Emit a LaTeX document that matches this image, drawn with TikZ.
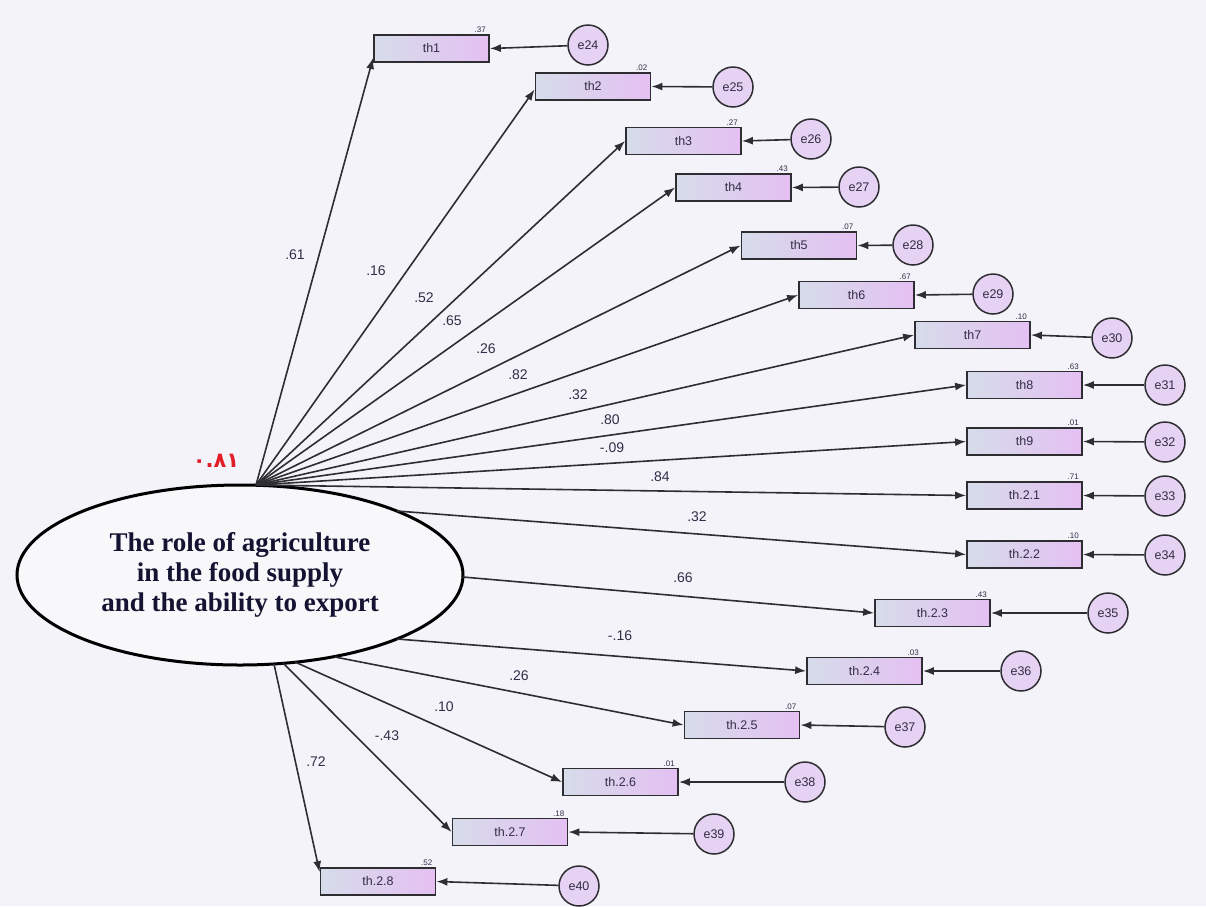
\documentclass[tikz,border=0pt]{standalone}
\usepackage{fontspec}
\setmainfont{Liberation Sans}
\newfontfamily\serifbold{Liberation Serif}
\newfontfamily\arabicfont[Script=Arabic]{DejaVu Sans}
\usetikzlibrary{arrows.meta,shapes.geometric}
\definecolor{bgc}{RGB}{244,243,249}
\definecolor{boxl}{RGB}{214,220,234}
\definecolor{boxr}{RGB}{228,192,242}
\definecolor{circf}{RGB}{230,210,242}
\definecolor{edge}{RGB}{45,45,50}
\definecolor{txt}{RGB}{50,45,70}
\definecolor{ttl}{RGB}{20,20,50}
\definecolor{redl}{RGB}{225,30,40}
\tikzset{
  obs/.style={draw=edge, line width=1.8pt, left color=boxl, right color=boxr,
    minimum width=115pt, minimum height=27pt, inner sep=0pt,
    font=\fontsize{12.5}{13}\selectfont, text=txt},
  err/.style={circle, draw=edge, line width=1.5pt, fill=circf, minimum size=40pt,
    inner sep=0pt, font=\fontsize{12.5}{13}\selectfont, text=txt},
  rsq/.style={anchor=south east, inner sep=1pt, font=\fontsize{8}{9}\selectfont, text=txt},
  coef/.style={inner sep=1pt, font=\fontsize{14}{15}\selectfont, text=txt},
  path/.style={draw=edge, line width=1.6pt, -{Latex[length=11pt,width=8pt]}},
  epath/.style={draw=edge, line width=1.6pt, -{Latex[length=11pt,width=8pt]}}
}
\begin{document}
\begin{tikzpicture}[x=1pt,y=-1pt]
\useasboundingbox (0,0) rectangle (1206,906);
\fill[bgc] (0,0) rectangle (1206,906);

% latent variable
\node[ellipse, draw=black, line width=3pt, fill=bgc!60!white, minimum width=446pt, minimum height=180pt, inner sep=0pt,
  align=center, text=ttl, font=\serifbold\bfseries\fontsize{27}{30}\selectfont] (lat) at (240,575)
  {The role of agriculture\\in the food supply\\and the ability to export};
\node[text=redl, inner sep=0pt, font=\arabicfont\bfseries\fontsize{21}{22}\selectfont] (var) at (216,461) {٠.٨١};

% observed variables
\node[obs] (t1)  at (431.5,48.5) {th1};
\node[obs] (t2)  at (593,86.5) {th2};
\node[obs] (t3)  at (683.5,141) {th3};
\node[obs] (t4)  at (733.5,187.5) {th4};
\node[obs] (t5)  at (799,245.5) {th5};
\node[obs] (t6)  at (856.5,295) {th6};
\node[obs] (t7)  at (972.5,335) {th7};
\node[obs] (t8)  at (1024.5,385) {th8};
\node[obs] (t9)  at (1024.5,441.5) {th9};
\node[obs] (t21) at (1024.5,495.5) {th.2.1};
\node[obs] (t22) at (1024.5,554.5) {th.2.2};
\node[obs] (t23) at (932.5,613) {th.2.3};
\node[obs] (t24) at (864.5,671) {th.2.4};
\node[obs] (t25) at (742,725) {th.2.5};
\node[obs] (t26) at (620.5,782) {th.2.6};
\node[obs] (t27) at (510,832) {th.2.7};
\node[obs] (t28) at (378,881.5) {th.2.8};

% squared multiple correlations
\node[rsq] (r1)  at ([xshift=-3pt]t1.north east)  {.37};
\node[rsq] (r2)  at ([xshift=-3pt]t2.north east)  {.02};
\node[rsq] (r3)  at ([xshift=-3pt]t3.north east)  {.27};
\node[rsq] (r4)  at ([xshift=-3pt]t4.north east)  {.43};
\node[rsq] (r5)  at ([xshift=-3pt]t5.north east)  {.07};
\node[rsq] (r6)  at ([xshift=-3pt]t6.north east)  {.67};
\node[rsq] (r7)  at ([xshift=-3pt]t7.north east)  {.10};
\node[rsq] (r8)  at ([xshift=-3pt]t8.north east)  {.63};
\node[rsq] (r9)  at ([xshift=-3pt]t9.north east)  {.01};
\node[rsq] (r21) at ([xshift=-3pt]t21.north east) {.71};
\node[rsq] (r22) at ([xshift=-3pt]t22.north east) {.10};
\node[rsq] (r23) at ([xshift=-3pt]t23.north east) {.43};
\node[rsq] (r24) at ([xshift=-3pt]t24.north east) {.03};
\node[rsq] (r25) at ([xshift=-3pt]t25.north east) {.07};
\node[rsq] (r26) at ([xshift=-3pt]t26.north east) {.01};
\node[rsq] (r27) at ([xshift=-3pt]t27.north east) {.18};
\node[rsq] (r28) at ([xshift=-3pt]t28.north east) {.52};

% error terms
\node[err] (e24) at (588,45) {e24};
\node[err] (e25) at (733,87) {e25};
\node[err] (e26) at (811,139) {e26};
\node[err] (e27) at (859,187) {e27};
\node[err] (e28) at (913,245) {e28};
\node[err] (e29) at (993,294) {e29};
\node[err] (e30) at (1112,338) {e30};
\node[err] (e31) at (1165,385) {e31};
\node[err] (e32) at (1165,442) {e32};
\node[err] (e33) at (1165,496) {e33};
\node[err] (e34) at (1165,555) {e34};
\node[err] (e35) at (1108,613) {e35};
\node[err] (e36) at (1021,671) {e36};
\node[err] (e37) at (905,727) {e37};
\node[err] (e38) at (805,782) {e38};
\node[err] (e39) at (714,834) {e39};
\node[err] (e40) at (579,886) {e40};

\draw[epath] (e24) -- (t1.east);
\draw[epath] (e25) -- (t2.east);
\draw[epath] (e26) -- (t3.east);
\draw[epath] (e27) -- (t4.east);
\draw[epath] (e28) -- (t5.east);
\draw[epath] (e29) -- (t6.east);
\draw[epath] (e30) -- (t7.east);
\draw[epath] (e31) -- (t8.east);
\draw[epath] (e32) -- (t9.east);
\draw[epath] (e33) -- (t21.east);
\draw[epath] (e34) -- (t22.east);
\draw[epath] (e35) -- (t23.east);
\draw[epath] (e36) -- (t24.east);
\draw[epath] (e37) -- (t25.east);
\draw[epath] (e38) -- (t26.east);
\draw[epath] (e39) -- (t27.east);
\draw[epath] (e40) -- (t28.east);

% path origins on the ellipse
\coordinate (src) at (256,485);
\coordinate (s22) at (397,511);
\coordinate (s23) at (463,577);
\coordinate (s24) at (397,639);
\coordinate (s25) at (335,657);
\coordinate (s26) at (295,662);
\coordinate (s27) at (283,663);
\coordinate (s28) at (274,664);

\draw[path] (src) -- ([yshift=5pt]t1.south west);
\draw[path] (src) -- ([yshift=-3pt]t2.west);
\draw[path] (src) -- (t3.west);
\draw[path] (src) -- (t4.west);
\draw[path] (src) -- (t5.west);
\draw[path] (src) -- (t6.west);
\draw[path] (src) -- (t7.west);
\draw[path] (src) -- (t8.west);
\draw[path] (src) -- (t9.west);
\draw[path] (src) -- (t21.west);
\draw[path] (s22) -- (t22.west);
\draw[path] (s23) -- (t23.west);
\draw[path] (s24) -- (t24.west);
\draw[path] (s25) -- (t25.west);
\draw[path] (s26) -- (t26.west);
\draw[path] (s27) -- (t27.west);
\draw[path] (s28) -- ([yshift=-5pt]t28.north west);

% path coefficients
\node[coef] (c1)  at (295,255) {.61};
\node[coef] (c2)  at (376,271) {.16};
\node[coef] (c3)  at (424,298) {.52};
\node[coef] (c4)  at (452,321) {.65};
\node[coef] (c5)  at (486,349) {.26};
\node[coef] (c6)  at (518,375) {.82};
\node[coef] (c7)  at (578,395) {.32};
\node[coef] (c8)  at (610,420) {.80};
\node[coef] (c9)  at (612,448) {-.09};
\node[coef] (c21) at (660,477) {.84};
\node[coef] (c22) at (697,517) {.32};
\node[coef] (c23) at (683,578) {.66};
\node[coef] (c24) at (620,636) {-.16};
\node[coef] (c25) at (519,676) {.26};
\node[coef] (c26) at (444,707) {.10};
\node[coef] (c27) at (387,736) {-.43};
\node[coef] (c28) at (316,762) {.72};
\end{tikzpicture}
\end{document}
